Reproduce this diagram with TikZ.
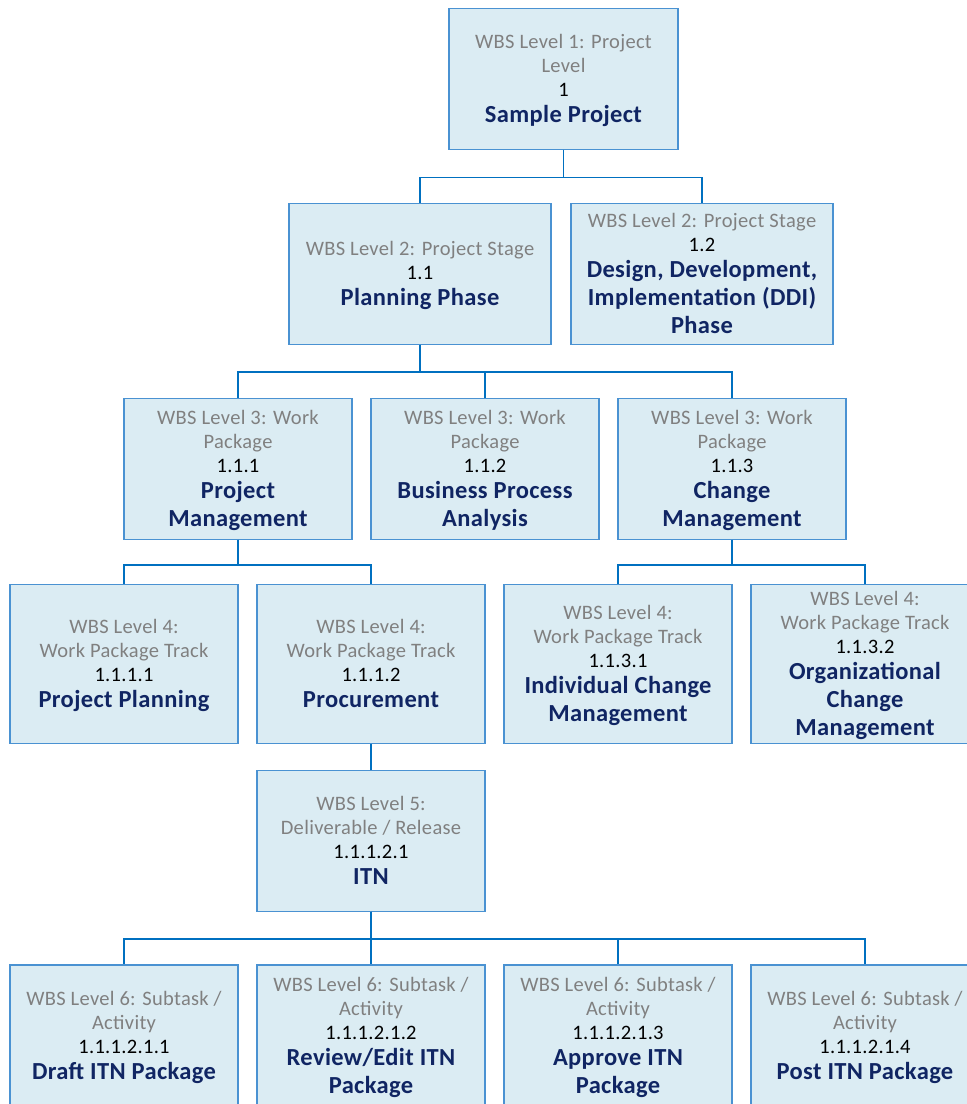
\documentclass[tikz,border=0pt]{standalone}
\usepackage{fontspec}
\setmainfont{Carlito}[LetterSpace=1.5]
\definecolor{boxfill}{HTML}{DBECF3}
\definecolor{boxline}{HTML}{4A92D2}
\definecolor{connline}{HTML}{0070C0}
\definecolor{greytxt}{HTML}{808080}
\definecolor{navy}{HTML}{102563}
\newcommand\ttl[1]{{\color{navy}\bfseries\fontsize{24.5}{28}\selectfont #1}}
\newcommand\nmb[1]{{\color{black}#1}}
\tikzset{
  wbs/.style={draw=boxline, fill=boxfill, line width=1.2pt, minimum width=228pt,
    minimum height=141pt, align=center, inner sep=0pt, text=greytxt, text depth=0pt,
    font=\fontsize{20.5}{24}\selectfont},
  wide/.style={minimum width=262pt},
  tall/.style={minimum height=159pt},
  conn/.style={draw=connline, line width=1.6pt}
}
\begin{document}
\begin{tikzpicture}[x=1pt,y=-1pt]
\useasboundingbox (0,0) rectangle (967,1104);
\clip (0,0) rectangle (967,1104);
% Level 1
\node[wbs, minimum width=229pt] (n1) at (563.5,78.8)
  {WBS Level 1: Project\\Level\\\nmb{1}\\[2pt]\ttl{Sample Project}};
% Level 2
\node[wbs, wide] (n11) at (420,273.8)
  {WBS Level 2: Project Stage\\\nmb{1.1}\\[2pt]\ttl{Planning Phase}};
\node[wbs, wide] (n12) at (702,273.8)
  {WBS Level 2: Project Stage\\\nmb{1.2}\\[2pt]\ttl{Design, Development,}\\[4pt]\ttl{Implementation (DDI)}\\[4pt]\ttl{Phase}};
% Level 3
\node[wbs] (n111) at (238,468.8)
  {WBS Level 3: Work\\Package\\\nmb{1.1.1}\\[2pt]\ttl{Project}\\[4pt]\ttl{Management}};
\node[wbs] (n112) at (485,468.8)
  {WBS Level 3: Work\\Package\\\nmb{1.1.2}\\[2pt]\ttl{Business Process}\\[4pt]\ttl{Analysis}};
\node[wbs] (n113) at (732,468.8)
  {WBS Level 3: Work\\Package\\\nmb{1.1.3}\\[2pt]\ttl{Change}\\[4pt]\ttl{Management}};
% Level 4
\node[wbs, tall] (n1111) at (124,663.8)
  {WBS Level 4:\\Work Package Track\\\nmb{1.1.1.1}\\[2pt]\ttl{Project Planning}};
\node[wbs, tall] (n1112) at (371,663.8)
  {WBS Level 4:\\Work Package Track\\\nmb{1.1.1.2}\\[2pt]\ttl{Procurement}};
\node[wbs, tall] (n1131) at (618,663.8)
  {WBS Level 4:\\Work Package Track\\\nmb{1.1.3.1}\\[2pt]\ttl{Individual Change}\\[4pt]\ttl{Management}};
\node[wbs, tall] (n1132) at (865,663.8)
  {WBS Level 4:\\Work Package Track\\\nmb{1.1.3.2}\\[2pt]\ttl{Organizational}\\[4pt]\ttl{Change}\\[4pt]\ttl{Management}};
% Level 5
\node[wbs] (n11121) at (371,840.6)
  {WBS Level 5:\\Deliverable / Release\\\nmb{1.1.1.2.1}\\[2pt]\ttl{ITN}};
% Level 6
\node[wbs] (a1) at (124,1035.5)
  {WBS Level 6: Subtask /\\Activity\\\nmb{1.1.1.2.1.1}\\[2pt]\ttl{Draft ITN Package}};
\node[wbs] (a2) at (371,1035.5)
  {WBS Level 6: Subtask /\\Activity\\\nmb{1.1.1.2.1.2}\\[2pt]\ttl{Review/Edit ITN}\\[4pt]\ttl{Package}};
\node[wbs] (a3) at (618,1035.5)
  {WBS Level 6: Subtask /\\Activity\\\nmb{1.1.1.2.1.3}\\[2pt]\ttl{Approve ITN}\\[4pt]\ttl{Package}};
\node[wbs] (a4) at (865,1035.5)
  {WBS Level 6: Subtask /\\Activity\\\nmb{1.1.1.2.1.4}\\[2pt]\ttl{Post ITN Package}};
% Connectors
\foreach \c in {n11,n12} \draw[conn] (n1.south) -- ++(0,27.5) -| (\c.north);
\foreach \c in {n111,n112,n113} \draw[conn] (n11.south) -- ++(0,27) -| (\c.north);
\foreach \c in {n1111,n1112} \draw[conn] (n111.south) -- ++(0,25) -| (\c.north);
\foreach \c in {n1131,n1132} \draw[conn] (n113.south) -- ++(0,25) -| (\c.north);
\draw[conn] (n1112.south) -- (n11121.north);
\foreach \c in {a1,a2,a3,a4} \draw[conn] (n11121.south) -- ++(0,27) -| (\c.north);
\end{tikzpicture}
\end{document}
